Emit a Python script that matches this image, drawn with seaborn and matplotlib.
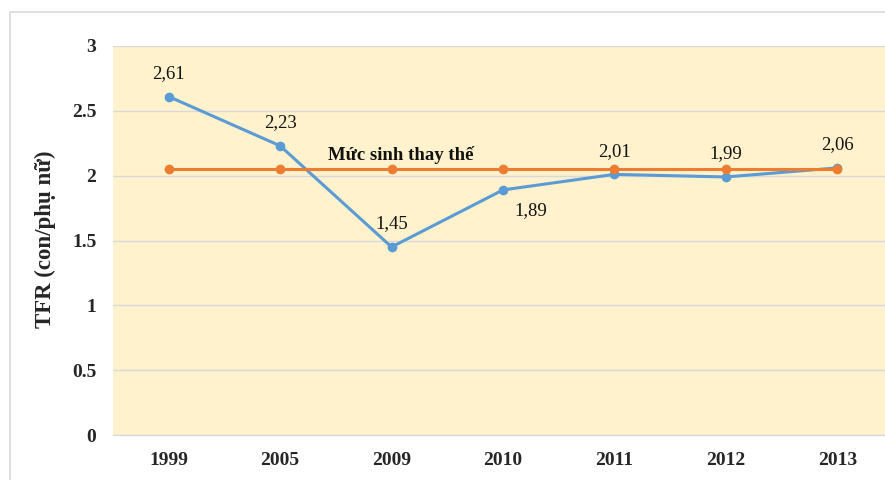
"""
TFR Việt Nam 1999-2013 so với mức sinh thay thế.
Lưu ra out.png
"""

import matplotlib
matplotlib.use("Agg")
import matplotlib.pyplot as plt
import seaborn as sns
import pandas as pd
from matplotlib.patches import Rectangle

years = ["1999", "2005", "2009", "2010", "2011", "2012", "2013"]
tfr = [2.61, 2.23, 1.45, 1.89, 2.01, 1.99, 2.06]
tfr_labels = ["2,61", "2,23", "1,45", "1,89", "2,01", "1,99", "2,06"]
replacement = [2.05] * len(years)
replacement_label = "Mức sinh thay thế"
y_ticks = [0, 0.5, 1, 1.5, 2, 2.5, 3]
y_ticklabels = ["0", "0.5", "1", "1.5", "2", "2.5", "3"]

BLUE = "#5B9BD5"
ORANGE = "#ED7D31"
BG = "#FFF2CC"
GRID = "#D9D9D9"

sns.set_theme(style="white")
plt.rcParams["font.family"] = ["Liberation Serif", "DejaVu Serif"]


def main():
    df = pd.DataFrame({"year": years, "tfr": tfr, "rep": replacement})

    fig = plt.figure(figsize=(8.85, 4.8), dpi=100)
    ax = fig.add_axes([113 / 885, 1 - 435 / 480, 780 / 885, 389 / 480])
    ax.set_facecolor(BG)

    # khung ngoài của hình
    fig.patches.append(Rectangle((10 / 885, -0.2), 1.2, 1.2 - 12 / 480,
                                 transform=fig.transFigure, fill=False,
                                 edgecolor="#D9D9D9", linewidth=1.2, zorder=0))

    sns.lineplot(data=df, x="year", y="tfr", sort=False, color=BLUE,
                 marker="o", markersize=7, markeredgewidth=0, linewidth=2.2,
                 ax=ax, zorder=3)
    sns.lineplot(data=df, x="year", y="rep", sort=False, color=ORANGE,
                 marker="o", markersize=7, markeredgewidth=0, linewidth=2.2,
                 ax=ax, zorder=4)

    for i, (v, lab) in enumerate(zip(tfr, tfr_labels)):
        off = (28, -21) if lab == "1,89" else (0, 23)
        ax.annotate(lab, (i, v), xytext=off, textcoords="offset pixels",
                    ha="center", va="center", fontsize=13.5, color="#111111")

    ax.text(2.08, replacement[0] + 0.11, replacement_label, ha="center",
            va="center", fontsize=13.5, fontweight="bold", color="#111111")

    ax.set_xlim(-0.5, len(years) - 0.5)
    ax.set_ylim(0, 3)
    ax.set_yticks(y_ticks)
    ax.set_yticklabels(y_ticklabels)
    ax.yaxis.grid(True, color=GRID, linewidth=1)
    ax.set_axisbelow(True)
    for s in ax.spines.values():
        s.set_visible(False)
    ax.spines["bottom"].set_visible(True)
    ax.spines["bottom"].set_color(GRID)
    ax.spines["bottom"].set_linewidth(1)
    ax.tick_params(axis="both", length=0, labelsize=14, pad=12)
    for t in ax.get_xticklabels() + ax.get_yticklabels():
        t.set_fontweight("bold")

    ax.set_xlabel("")
    ax.set_ylabel("TFR (con/phụ nữ)", fontsize=16.5, fontweight="bold",
                  va="center")
    ax.yaxis.set_label_coords(-0.087, 0.504)

    fig.savefig("out.png", dpi=100)
    plt.close(fig)


if __name__ == "__main__":
    main()
